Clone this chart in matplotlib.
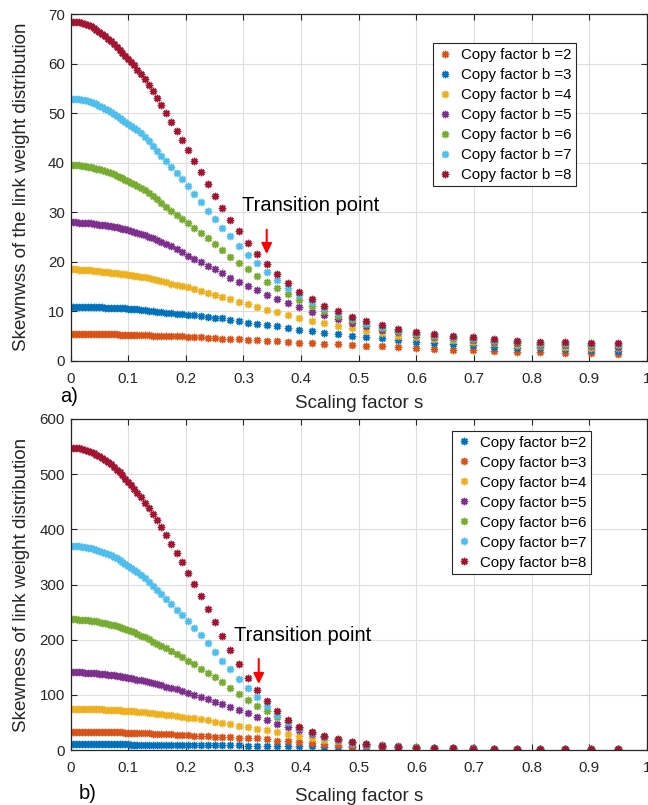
import numpy as np
import matplotlib
matplotlib.use('Agg')
import matplotlib.pyplot as plt

plt.rcParams['font.family'] = ['Liberation Sans', 'DejaVu Sans']

# ---------------- data ----------------
s_values = [0, 0.005, 0.01, 0.015, 0.02, 0.025, 0.03, 0.035, 0.04, 0.045, 0.05, 0.055, 0.06,
            0.065, 0.07, 0.075, 0.08, 0.085, 0.09, 0.095, 0.10, 0.105, 0.11,
            0.116, 0.122, 0.1285, 0.1353, 0.1424, 0.1499, 0.1578, 0.1661, 0.1748, 0.184,
            0.1937, 0.2039, 0.2146, 0.2259, 0.2378, 0.2503, 0.2635, 0.2774, 0.292, 0.3074,
            0.3235, 0.3406, 0.3585, 0.3774, 0.3972, 0.4181, 0.4401, 0.4633, 0.4877, 0.5133,
            0.5404, 0.5688, 0.5987, 0.6302, 0.6634, 0.6983, 0.7351, 0.7738, 0.8145, 0.8574,
            0.9025, 0.95]

# panel a) skewness values
top_b2 = [5.45, 5.45, 5.45, 5.44, 5.44, 5.43, 5.42, 5.41, 5.4, 5.39, 5.38, 5.36, 5.34, 5.32, 5.3, 5.28, 5.26, 5.24, 5.22, 5.2, 5.18, 5.16, 5.14,
          5.12, 5.1, 5.08, 5.06, 5.04, 5.02, 5.0, 4.98, 4.96, 4.93, 4.9, 4.82, 4.74, 4.65, 4.56, 4.48, 4.41, 4.34, 4.28, 4.2, 4.1, 4.0,
          3.88, 3.74, 3.6, 3.5, 3.4, 3.27, 3.15, 3.0, 2.87, 2.73, 2.6, 2.38, 2.2, 2.06, 1.9, 1.75, 1.65, 1.57, 1.46, 1.37]
top_b3 = [10.9, 10.9, 10.9, 10.9, 10.88, 10.87, 10.85, 10.83, 10.8, 10.78, 10.75, 10.72, 10.7, 10.67, 10.65, 10.62, 10.6, 10.57, 10.55, 10.52, 10.5, 10.45, 10.4,
          10.33, 10.25, 10.15, 10.05, 9.95, 9.85, 9.75, 9.63, 9.52, 9.42, 9.32, 9.22, 9.12, 9.0, 8.85, 8.68, 8.5, 8.25, 7.95, 7.67, 7.4, 7.15,
          6.9, 6.6, 6.25, 5.95, 5.62, 5.35, 5.0, 4.7, 4.45, 4.1, 3.8, 3.55, 3.3, 3.05, 2.8, 2.6, 2.45, 2.3, 2.12, 1.98]
top_b4 = [18.4, 18.4, 18.4, 18.38, 18.35, 18.3, 18.25, 18.2, 18.15, 18.1, 18.0, 17.95, 17.9, 17.8, 17.75, 17.7, 17.6, 17.55, 17.5, 17.4, 17.35, 17.25, 17.15,
          17.05, 16.9, 16.8, 16.6, 16.45, 16.25, 16.05, 15.8, 15.55, 15.3, 15.05, 14.8, 14.45, 14.05, 13.65, 13.2, 12.8, 12.4, 11.9, 11.35, 10.85, 10.3,
          9.7, 9.15, 8.6, 8.0, 7.5, 7.0, 6.5, 6.0, 5.5, 5.05, 4.7, 4.4, 4.1, 3.8, 3.5, 3.2, 2.95, 2.8, 2.6, 2.45]
top_b5 = [27.9, 27.9, 27.9, 27.85, 27.85, 27.8, 27.75, 27.7, 27.6, 27.55, 27.45, 27.4, 27.3, 27.2, 27.1, 27.0, 26.9, 26.75, 26.6, 26.5, 26.35, 26.2, 26.05,
          25.85, 25.6, 25.35, 25.05, 24.75, 24.4, 24.0, 23.55, 23.05, 22.5, 21.85, 21.15, 20.5, 19.85, 19.15, 18.45, 17.6, 16.75, 15.9, 15.05, 14.2, 13.3,
          12.4, 11.55, 10.75, 9.85, 9.1, 8.3, 7.6, 6.9, 6.25, 5.7, 5.25, 4.8, 4.45, 4.1, 3.75, 3.45, 3.2, 3.05, 2.9, 2.8]
top_b6 = [39.5, 39.5, 39.45, 39.4, 39.35, 39.25, 39.15, 39.0, 38.9, 38.75, 38.6, 38.45, 38.25, 38.05, 37.85, 37.6, 37.35, 37.1, 36.85, 36.55, 36.25, 35.95, 35.65,
          35.25, 34.85, 34.35, 33.8, 33.2, 32.55, 31.8, 31.0, 30.2, 29.4, 28.6, 27.7, 26.8, 25.8, 24.7, 23.5, 22.3, 21.0, 19.7, 18.4, 17.1, 15.8,
          14.6, 13.4, 12.2, 11.1, 10.0, 9.0, 8.1, 7.3, 6.55, 5.9, 5.4, 4.95, 4.55, 4.25, 3.9, 3.65, 3.4, 3.25, 3.15, 3.05]
top_b7 = [52.9, 52.9, 52.85, 52.8, 52.7, 52.6, 52.4, 52.2, 52.0, 51.8, 51.5, 51.2, 50.9, 50.6, 50.2, 49.8, 49.4, 49.0, 48.6, 48.2, 47.8, 47.3, 46.9,
          46.5, 46.0, 45.2, 44.4, 43.4, 42.4, 41.4, 40.3, 39.1, 37.9, 36.6, 35.3, 33.7, 32.0, 30.3, 28.6, 26.8, 25.1, 23.2, 21.4, 19.6, 17.8,
          16.2, 14.7, 13.2, 11.8, 10.6, 9.5, 8.5, 7.6, 6.85, 6.2, 5.65, 5.2, 4.8, 4.5, 4.1, 3.85, 3.6, 3.45, 3.35, 3.25]
top_b8 = [68.4, 68.4, 68.35, 68.3, 68.2, 68.0, 67.8, 67.5, 67.2, 66.8, 66.4, 66.0, 65.5, 65.0, 64.5, 64.0, 63.4, 62.8, 62.2, 61.6, 61.0, 60.3, 59.6,
          58.7, 57.8, 56.8, 55.6, 54.4, 53.1, 51.6, 49.9, 48.2, 46.4, 44.5, 42.5, 40.3, 38.0, 35.7, 33.3, 30.9, 28.4, 26.1, 23.7, 21.6, 19.5,
          17.5, 15.6, 13.9, 12.4, 11.1, 9.9, 8.85, 7.9, 7.15, 6.4, 5.85, 5.4, 4.95, 4.7, 4.3, 4.0, 3.75, 3.65, 3.57, 3.47]

# panel b) skewness values
bot_b2 = [10.5, 10.5, 10.5, 10.5, 10.5, 10.48, 10.46, 10.44, 10.42, 10.4, 10.37, 10.34, 10.31, 10.28, 10.24, 10.2, 10.16, 10.12, 10.08, 10.04, 10.0, 9.96, 9.92,
          9.87, 9.82, 9.76, 9.7, 9.63, 9.56, 9.48, 9.4, 9.32, 9.24, 9.16, 9.07, 8.97, 8.87, 8.76, 8.64, 8.51, 8.37, 8.22, 8.06, 7.89, 7.7,
          7.45, 7.15, 6.8, 6.4, 6.0, 5.6, 5.15, 4.75, 4.35, 3.95, 3.6, 3.3, 3.0, 2.75, 2.5, 2.3, 2.15, 2.0, 1.85, 1.7]
bot_b3 = [33.5, 33.5, 33.5, 33.5, 33.45, 33.4, 33.35, 33.3, 33.2, 33.1, 33.0, 32.9, 32.8, 32.65, 32.5, 32.35, 32.2, 32.05, 31.9, 31.7, 31.5, 31.3, 31.1,
          30.85, 30.6, 30.3, 30.0, 29.65, 29.3, 28.9, 28.5, 28.1, 27.7, 27.2, 26.6, 26.0, 25.4, 24.8, 24.2, 23.6, 23.0, 22.6, 22.2, 21.1, 19.3,
          17.2, 15.5, 13.7, 12.0, 10.5, 9.0, 7.7, 6.5, 5.5, 4.7, 4.0, 3.4, 3.0, 2.6, 2.3, 2.1, 1.9, 1.8, 1.7, 1.6]
bot_b4 = [75, 75, 75, 74.9, 74.8, 74.7, 74.6, 74.4, 74.2, 74.0, 73.8, 73.5, 73.3, 73.0, 72.7, 72.4, 72.1, 71.8, 71.4, 71.0, 70.6, 70.2, 69.8,
          69.3, 68.7, 68.0, 67.3, 66.5, 65.7, 64.8, 63.8, 62.7, 61.5, 60.3, 58.8, 57.2, 55.5, 53.8, 51.5, 49, 46.5, 44, 41.5, 38.5, 35.5,
          32, 28.5, 25, 21.5, 18.5, 15.5, 12.5, 10, 8.0, 6.3, 5.1, 4.2, 3.5, 3.0, 2.6, 2.3, 2.1, 1.95, 1.85, 1.75]
bot_b5 = [141, 141, 140.9, 140.8, 140.6, 140.4, 140.1, 139.8, 139.4, 139, 138.5, 138, 137.4, 136.8, 136.1, 135.4, 134.6, 133.8, 132.9, 132, 131, 130, 129,
          127.7, 126.3, 124.7, 123, 121.2, 119.3, 117.3, 115, 112.6, 110, 107, 103.6, 99.8, 95.8, 91.6, 87, 82.5, 77.3, 72, 66.3, 59.8, 54,
          47.5, 42.5, 35.5, 29, 23.5, 18.5, 14.5, 11, 8.5, 6.5, 5.2, 4.2, 3.5, 3.0, 2.6, 2.3, 2.1, 2.0, 1.9, 1.8]
bot_b6 = [237, 236.95, 236.8, 236.55, 236.2, 235.75, 235.2, 234.55, 233.8, 232.95, 232, 230.95, 229.8, 228.5, 227.2, 225.75, 224.2, 222.55, 220.8, 219, 217, 215, 213,
          210.5, 207.5, 204, 200.5, 196.5, 192.5, 188, 184, 179.5, 174.5, 168.5, 162, 155, 147, 139.5, 131.5, 123, 112, 101, 90, 79.5, 70,
          60, 50.5, 42, 33, 26, 20, 15, 11, 8, 6, 4.7, 3.7, 3.0, 2.5, 2.1, 1.9, 1.7, 1.6, 1.5, 1.4]
bot_b7 = [370, 370, 369.7, 369.3, 368.7, 367.9, 367, 365.9, 364.6, 363.2, 361.6, 359.8, 357.8, 355.5, 353, 350.3, 347.4, 344.3, 341, 337.5, 334, 330.5, 326.5,
          322, 317, 311.5, 305, 298, 290.5, 282.5, 274, 264.5, 254.5, 244, 233, 221, 208, 193.5, 178, 162, 146, 129, 112, 95.5, 79,
          64, 50.5, 39, 30, 23, 17.5, 13, 9.5, 6.8, 5.0, 4.0, 3.2, 2.6, 2.2, 1.9, 1.7, 1.55, 1.45, 1.35, 1.25]
bot_b8 = [548, 548, 547.4, 546.6, 545.5, 544.1, 542.4, 540.4, 538.1, 535.5, 532.5, 529.2, 525.7, 521.8, 517.6, 513.1, 508.3, 503.2, 497.8, 492.1, 486.5, 480.5, 474,
          466, 458, 448.5, 438.5, 428, 416.5, 403.5, 389, 374, 357.5, 341, 321.5, 301, 279, 256, 232.5, 207, 181, 156, 131, 109, 88,
          70, 54.5, 42, 32.5, 25, 19.5, 14.5, 10.5, 7.5, 5.5, 4.3, 3.4, 2.8, 2.3, 2.0, 1.8, 1.6, 1.5, 1.4, 1.3]

top_labels = ['Copy factor b =2', 'Copy factor b =3', 'Copy factor b =4', 'Copy factor b =5',
              'Copy factor b =6', 'Copy factor b =7', 'Copy factor b =8']
bot_labels = ['Copy factor b=2', 'Copy factor b=3', 'Copy factor b=4', 'Copy factor b=5',
              'Copy factor b=6', 'Copy factor b=7', 'Copy factor b=8']
x_ticks = [0, 0.1, 0.2, 0.3, 0.4, 0.5, 0.6, 0.7, 0.8, 0.9, 1.0]
x_tick_labels = ['0', '0.1', '0.2', '0.3', '0.4', '0.5', '0.6', '0.7', '0.8', '0.9', '1']
top_yticks = [0, 10, 20, 30, 40, 50, 60, 70]
bot_yticks = [0, 100, 200, 300, 400, 500, 600]

# MATLAB default colour order
BLUE, ORANGE, YELLOW, PURPLE = '#0072BD', '#D95319', '#EDB120', '#7E2F8E'
GREEN, CYAN, RED = '#77AC30', '#4DBEEE', '#A2142F'
top_colors = [ORANGE, BLUE, YELLOW, PURPLE, GREEN, CYAN, RED]
bot_colors = [BLUE, ORANGE, YELLOW, PURPLE, GREEN, CYAN, RED]

AX_COL = '#262626'
W, H = 648, 805

fig = plt.figure(figsize=(W / 100, H / 100), dpi=100)


def axes_px(l, t, r, b):
    return fig.add_axes([l / W, 1 - b / H, (r - l) / W, (b - t) / H])


def style(ax, yticks):
    ax.set_xlim(0, 1)
    ax.set_ylim(yticks[0], yticks[-1])
    ax.set_xticks(x_ticks)
    ax.set_xticklabels(x_tick_labels)
    ax.set_yticks(yticks)
    ax.set_yticklabels([str(v) for v in yticks])
    ax.grid(True, color='#dedede', linewidth=0.8)
    ax.set_axisbelow(True)
    ax.tick_params(axis='both', direction='in', length=4, width=0.8, top=True, right=True,
                   labelsize=10.9, colors=AX_COL)
    ax.tick_params(axis='x', pad=8)
    ax.tick_params(axis='y', pad=4)
    for sp in ax.spines.values():
        sp.set_color(AX_COL)
        sp.set_linewidth(0.9)


def draw(ax, series, colors, labels):
    for y, c, lab in zip(series, colors, labels):
        ax.plot(s_values, y, linestyle='none', marker=(8, 2, 0), markersize=5.3,
                markeredgewidth=1.05, color=c, label=lab)


ax1 = axes_px(70.5, 14, 647, 360.5)
ax2 = axes_px(70.5, 419, 647, 750)

style(ax1, top_yticks)
style(ax2, bot_yticks)

draw(ax1, [top_b2, top_b3, top_b4, top_b5, top_b6, top_b7, top_b8], top_colors, top_labels)
draw(ax2, [bot_b2, bot_b3, bot_b4, bot_b5, bot_b6, bot_b7, bot_b8], bot_colors, bot_labels)

leg_kw = dict(loc='upper left', bbox_transform=fig.transFigure, borderaxespad=0,
              fontsize=10.8, frameon=True, fancybox=False, framealpha=1, edgecolor=AX_COL,
              handlelength=1.0, handletextpad=0.6, borderpad=0.3, labelspacing=0.4,
              numpoints=1)
lg1 = ax1.legend(bbox_to_anchor=(432.7 / W, 1 - 43.3 / H), **leg_kw)
lg2 = ax2.legend(bbox_to_anchor=(451.7 / W, 1 - 431 / H), **leg_kw)
for lg in (lg1, lg2):
    lg.get_frame().set_linewidth(0.8)

# axis labels
fig.text(22 / W, 1 - 187 / H, 'Skewnwss of the link weight distribution', rotation=90,
         ha='center', va='center', fontsize=13.5, color=AX_COL)
fig.text(22 / W, 1 - 584.5 / H, 'Skewness of link weight distribution', rotation=90,
         ha='center', va='center', fontsize=13.5, color=AX_COL)
fig.text(358.75 / W, 1 - 408 / H, 'Scaling factor s', ha='center', va='baseline',
         fontsize=13.5, color=AX_COL)
fig.text(358.75 / W, 1 - 801 / H, 'Scaling factor s', ha='center', va='baseline',
         fontsize=13.5, color=AX_COL)
fig.text(60 / W, 1 - 402 / H, 'a)', ha='left', va='baseline', fontsize=14.5, color='black')
fig.text(79 / W, 1 - 799 / H, 'b)', ha='left', va='baseline', fontsize=14.5, color='black')

# transition point annotations
ax1.text(0.297, 31.4, 'Transition point', ha='left', va='center', fontsize=14.5, color='black')
ax2.text(0.2836, 208.4, 'Transition point', ha='left', va='center', fontsize=14.5, color='black')
arrow_kw = dict(arrowstyle='-|>,head_length=0.45,head_width=0.22', color='red', lw=1.5,
                shrinkA=0, shrinkB=0, mutation_scale=14)
ax1.annotate('', xy=(0.3403, 21.5), xytext=(0.3403, 26.4), arrowprops=arrow_kw)
ax2.annotate('', xy=(0.3265, 119.6), xytext=(0.3265, 165), arrowprops=arrow_kw)

fig.savefig('out.png', dpi=100)
